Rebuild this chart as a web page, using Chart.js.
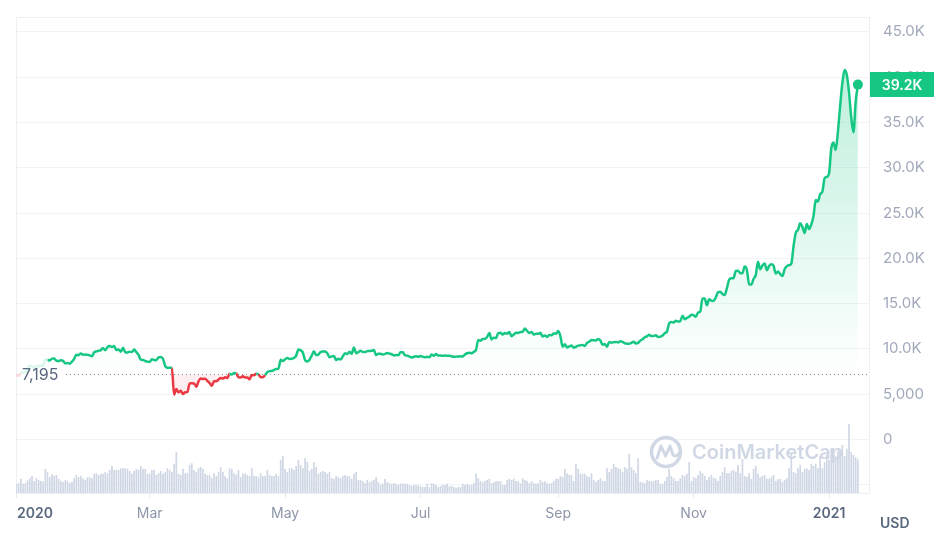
<!DOCTYPE html>
<html>
<head>
<meta charset="utf-8">
<script src="https://cdn.jsdelivr.net/npm/chart.js@4.4.0/dist/chart.umd.min.js"></script>
<style>
  html, body { margin: 0; padding: 0; background: #fff; }
  #wrap { width: 944px; height: 547px; }
</style>
</head>
<body>
<div id="wrap"><canvas id="btcChart" width="944" height="547"></canvas></div>
<script>
// BTC / USD daily close, 2020-01-01 .. 2021-01-14 (index = days since 2020-01-01)
const prices = [
  // Jan 2020
  7200, 6985, 7345, 7411, 7411, 7769, 8163, 8079, 7879, 8166, 8037, 8192, 8144, 8827, 8807, 8723,
  8929, 8942, 8706, 8657, 8745, 8681, 8406, 8445, 8368, 8596, 8910, 9358, 9316, 9509, 9351,
  // Feb
  9393, 9344, 9293, 9181, 9614, 9729, 9796, 9866, 10116, 9857, 10208, 10327, 10214, 10313, 9889,
  9934, 9690, 10141, 9633, 9608, 9686, 9663, 9925, 9650, 9342, 8820, 8785, 8672, 8599,
  // Mar
  8562, 8869, 8787, 8756, 9078, 9122, 8909, 8108, 7923, 7909, 7911, 4970, 5563, 5200, 5392, 5014,
  5225, 5238, 6191, 6198, 6185, 5830, 6416, 6734, 6681, 6716, 6469, 6242, 5922, 6429, 6438,
  // Apr
  6606, 6793, 6733, 6868, 6791, 7271, 7176, 7334, 7302, 6865, 6859, 6971, 6845, 6843, 6642,
  7116, 7096, 7257, 7189, 6882, 6880, 7117, 7429, 7550, 7569, 7679, 7795, 7807, 8801, 8658,
  // May
  8864, 8989, 8897, 8912, 9003, 9268, 9951, 9842, 9593, 8756, 8601, 8804, 9269, 9733, 9328, 9377,
  9670, 9726, 9729, 9522, 9081, 9182, 9209, 8790, 8906, 8835, 9181, 9525, 9439, 9700, 9461,
  // Jun
  10167, 9529, 9657, 9800, 9665, 9653, 9758, 9771, 9795, 9870, 9321, 9480, 9475, 9386, 9450,
  9538, 9480, 9412, 9289, 9332, 9303, 9648, 9629, 9313, 9264, 9162, 9045, 9143, 9190, 9137,
  // Jul
  9228, 9124, 9088, 9132, 9073, 9375, 9252, 9428, 9277, 9278, 9240, 9276, 9243, 9243, 9192, 9132,
  9151, 9159, 9185, 9164, 9374, 9525, 9581, 9536, 9677, 9905, 10990, 10912, 11100, 11111, 11323,
  // Aug
  11759, 11053, 11246, 11205, 11747, 11779, 11601, 11754, 11675, 11878, 11410, 11584, 11784, 11768, 11865, 11892,
  12254, 11991, 11758, 11878, 11592, 11681, 11664, 11774, 11366, 11488, 11323, 11542, 11507, 11711, 11680,
  // Sep
  11970, 11414, 10245, 10511, 10169, 10280, 10370, 10131, 10242, 10363, 10401, 10443, 10323, 10680, 10796,
  10974, 10948, 10944, 11094, 10938, 10462, 10538, 10246, 10761, 10692, 10750, 10776, 10709, 10844, 10784,
  // Oct
  10620, 10585, 10565, 10680, 10793, 10604, 10669, 10915, 11065, 11296, 11384, 11555, 11426, 11430, 11505, 11323,
  11358, 11483, 11742, 11916, 12823, 12965, 12931, 13108, 13031, 13075, 13654, 13271, 13437, 13546, 13781,
  // Nov
  13737, 13550, 14023, 14133, 15579, 15565, 14833, 15479, 15332, 15290, 15701, 16277, 16317, 16068, 15955,
  16716, 17645, 17804, 17817, 18621, 18642, 18370, 18364, 19107, 18732, 17150, 17108, 17718, 18177, 19625,
  // Dec
  18802, 19201, 19445, 18699, 19154, 19345, 19191, 18321, 18553, 18264, 18058, 18803, 19142, 19246, 19417, 21310,
  22805, 23137, 23869, 23477, 22803, 23783, 23241, 23735, 24664, 26437, 26272, 27084, 27362, 28840, 29001,
  // Jan 2021
  29374, 32127, 32782, 31971, 33992, 36824, 39371, 40797, 40254, 38356, 35567, 33922, 37316, 39187
];

// 24h volume per day (bn USD)
const volumes = [
  16, 17, 25, 16, 17, 22, 26, 30, 21, 26, 23, 21, 20, 43, 37, 28, 33, 30, 32, 25,
  21, 19, 23, 21, 17, 19, 26, 32, 28, 30, 26, 23, 28, 28, 26, 34, 35, 32, 34, 34,
  37, 35, 41, 48, 41, 41, 41, 44, 44, 44, 43, 39, 34, 39, 43, 41, 48, 43, 43, 34,
  34, 41, 41, 32, 35, 39, 34, 37, 44, 41, 37, 52, 73, 34, 32, 43, 35, 35, 50, 53,
  41, 37, 44, 46, 43, 34, 32, 32, 26, 35, 30, 37, 46, 37, 30, 26, 44,
  43, 35, 32, 41, 28, 34, 35, 32, 30, 44, 30, 30, 28, 35, 30, 30, 41, 32, 30, 30,
  34, 30, 59, 66, 43, 37, 44, 44, 41, 48, 59, 50, 44, 62, 55, 39, 43, 55, 46, 34,
  37, 39, 37, 34, 37, 26, 25, 30, 28, 26, 30, 32, 30, 30, 25, 34, 37, 23, 23, 21,
  17, 23, 19, 21, 23, 28, 19, 14, 16, 25, 19, 17, 16, 17, 16, 14, 17, 16, 16, 16,
  14, 12, 14, 14, 13, 12, 10, 10, 16, 10, 17, 16, 14, 10, 12,
  14, 14, 16, 12, 12, 10, 8, 10, 10, 16, 14, 16, 14, 14, 17, 34, 26, 21, 19, 21,
  23, 25, 17, 19, 21, 21, 21, 14, 14, 23, 25, 23, 25, 21, 21, 17, 26, 23, 21, 17,
  21, 17, 16, 17, 23, 19, 21, 17, 16, 17, 21, 25, 25, 30, 28, 43, 35, 32, 32, 21,
  52, 43, 34, 34, 34, 30, 28, 35, 23, 19, 23, 26, 21, 21, 44, 37, 43, 52, 46, 44,
  43, 37, 46, 43, 70, 46, 41, 35, 62, 19, 19, 17, 23, 21, 21, 21, 23,
  23, 16, 16, 21, 28, 43, 30, 26, 21, 21, 26, 32, 30, 34, 55, 21, 28, 26, 32, 39,
  35, 30, 23, 28, 32, 27, 25, 21, 30, 37, 46, 35, 35, 39, 41, 38, 50, 35, 61, 30,
  28, 35, 25, 43, 48, 34, 28, 30, 32, 25, 25, 28, 32, 21, 24, 25, 19, 23, 26, 44,
  70, 37, 35, 44, 50, 37, 43, 44, 41, 52, 48, 52, 44, 66, 44, 55, 68, 59, 80, 73,
  64, 75, 79, 86, 66, 79, 124, 73, 68, 64, 60
];

const basePrice = 7195;       // price at the start of the range
const firstSolid = 14;        // line is drawn faint before 2020-01-15
const xTickDays = [0, 60, 121, 182, 244, 305, 366];
const xTickLabels = ['2020', 'Mar', 'May', 'Jul', 'Sep', 'Nov', '2021'];
const yTicks = [-5000, 0, 5000, 10000, 15000, 20000, 25000, 30000, 35000, 40000, 45000];

const GREEN = '#16c784';
const RED = '#ea3943';

Chart.defaults.font.family = 'Inter, "Noto Sans", sans-serif';

function fmtPrice(v) {
  if (v < 0) return '';
  if (v >= 10000) return (v / 1000).toFixed(1) + 'K';
  return v.toLocaleString('en-US');
}

const extras = {
  id: 'extras',
  beforeDatasetsDraw(chart) {
    const { ctx, chartArea: a, scales: { y } } = chart;
    const yb = Math.round(y.getPixelForValue(basePrice)) + 0.5;
    ctx.save();
    ctx.strokeStyle = '#eceff3';
    ctx.lineWidth = 1;
    ctx.strokeRect(a.left + 0.5, a.top + 0.5, a.right - a.left, a.bottom - a.top);

    ctx.strokeStyle = '#8a94a6';
    ctx.setLineDash([1, 3]);
    ctx.beginPath();
    ctx.moveTo(a.left + 50, yb);
    ctx.lineTo(a.right, yb);
    ctx.stroke();
    ctx.setLineDash([]);

    ctx.fillStyle = '#58667e';
    ctx.font = '16px Inter';
    ctx.textAlign = 'left';
    ctx.textBaseline = 'middle';
    ctx.fillText(basePrice.toLocaleString('en-US'), a.left + 6, yb + 1);
    ctx.restore();
  },
  afterDatasetsDraw(chart) {
    // CoinMarketCap watermark
    const { ctx, chartArea: a } = chart;
    const cx = a.right - 203, cy = a.bottom - 41;
    ctx.save();
    ctx.strokeStyle = 'rgba(207,214,228,0.95)';
    ctx.fillStyle = 'rgba(207,214,228,0.95)';
    ctx.lineWidth = 3.5;
    ctx.lineJoin = 'round';
    ctx.lineCap = 'round';
    ctx.beginPath();
    ctx.arc(cx, cy, 14.5, 0, Math.PI * 2);
    ctx.stroke();
    ctx.lineWidth = 3;
    ctx.beginPath();
    ctx.moveTo(cx - 9, cy + 6);
    ctx.lineTo(cx - 5, cy - 6);
    ctx.lineTo(cx - 0.5, cy + 4);
    ctx.lineTo(cx + 4, cy - 6);
    ctx.lineTo(cx + 7, cy + 3);
    ctx.quadraticCurveTo(cx + 10, cy + 6, cx + 14, cy);
    ctx.stroke();
    ctx.font = '600 20px Inter';
    ctx.textAlign = 'left';
    ctx.textBaseline = 'middle';
    ctx.fillText('CoinMarketCap', cx + 26, cy + 1);
    ctx.restore();
  },
  afterDraw(chart) {
    const { ctx, chartArea: a, scales: { x, y } } = chart;
    ctx.save();
    ctx.textBaseline = 'middle';
    xTickDays.forEach((d, i) => {
      const isYear = /^\d{4}$/.test(xTickLabels[i]);
      ctx.font = (isYear ? '600 ' : '') + '14px Inter';
      ctx.fillStyle = isYear ? '#58667e' : '#8d96a8';
      ctx.textAlign = i === 0 ? 'left' : 'center';
      ctx.fillText(xTickLabels[i], i === 0 ? a.left + 1 : x.getPixelForValue(d), a.bottom + 21);
    });
    ctx.font = '600 14px Inter';
    ctx.fillStyle = '#58667e';
    ctx.textAlign = 'left';
    ctx.fillText('USD', a.right + 11, a.bottom + 31);

    // last price badge
    const last = prices[prices.length - 1];
    const yl = y.getPixelForValue(last);
    ctx.fillStyle = GREEN;
    ctx.fillRect(a.right + 1, Math.round(yl - 12.5), 64, 25);
    ctx.fillStyle = '#fff';
    ctx.font = '600 14px Inter';
    ctx.textAlign = 'center';
    ctx.fillText(fmtPrice(last), a.right + 33, Math.round(yl) + 0.5);
    ctx.restore();
  }
};

const ctx = document.getElementById('btcChart').getContext('2d');
new Chart(ctx, {
  type: 'line',
  data: {
    datasets: [
      {
        type: 'line',
        data: prices.map((p, i) => ({ x: i, y: p })),
        borderWidth: 2.5,
        cubicInterpolationMode: 'monotone',
        pointRadius: c => c.dataIndex === prices.length - 1 ? 5 : 0,
        pointBackgroundColor: GREEN,
        pointBorderWidth: 0,
        borderColor: GREEN,
        segment: {
          borderColor: c => {
            const below = (c.p0.parsed.y + c.p1.parsed.y) / 2 < basePrice;
            if (c.p0DataIndex < firstSolid) return below ? 'rgba(234,57,67,0.15)' : 'rgba(22,199,132,0.15)';
            return below ? RED : GREEN;
          }
        },
        backgroundColor: c => {
          const { chartArea, scales } = c.chart;
          if (!chartArea) return 'rgba(22,199,132,0.1)';
          const y = scales.y;
          const g = c.chart.ctx.createLinearGradient(0, y.getPixelForValue(Math.max(...prices)), 0, y.getPixelForValue(basePrice));
          g.addColorStop(0, 'rgba(22,199,132,0.28)');
          g.addColorStop(1, 'rgba(22,199,132,0.0)');
          return g;
        },
        fill: { target: { value: basePrice }, below: 'rgba(234,57,67,0.08)' },
        yAxisID: 'y',
        order: 1
      },
      {
        type: 'bar',
        data: volumes.map((v, i) => ({ x: i, y: v })),
        backgroundColor: '#cfd6e4',
        barThickness: 1,
        yAxisID: 'yv',
        order: 2
      }
    ]
  },
  options: {
    responsive: false,
    animation: false,
    layout: { padding: { left: 16, top: 17, right: 0, bottom: 0 } },
    plugins: { legend: { display: false }, tooltip: { enabled: false } },
    scales: {
      x: {
        type: 'linear',
        min: -0.2,
        max: 384,
        offset: false,
        afterBuildTicks: s => { s.ticks = xTickDays.map(v => ({ value: v })); },
        afterFit: s => { s.height = 54; s.paddingLeft = 0; s.paddingRight = 0; },
        ticks: { display: false },
        grid: { drawOnChartArea: false, drawTicks: true, tickLength: 5, color: '#e3e7ee', offset: false },
        border: { display: false }
      },
      y: {
        position: 'right',
        min: -5908,
        max: 46654,
        afterBuildTicks: s => { s.ticks = yTicks.map(v => ({ value: v })); },
        afterFit: s => { s.width = 75; s.paddingTop = 0; s.paddingBottom = 0; },
        ticks: { padding: 14, color: '#a1a9bb', font: { size: 15 }, callback: v => fmtPrice(v) },
        grid: { color: '#f1f3f6', drawTicks: false },
        border: { display: false }
      },
      yv: { display: false, min: 0, max: 857 }
    }
  },
  plugins: [extras]
});
</script>
</body>
</html>
